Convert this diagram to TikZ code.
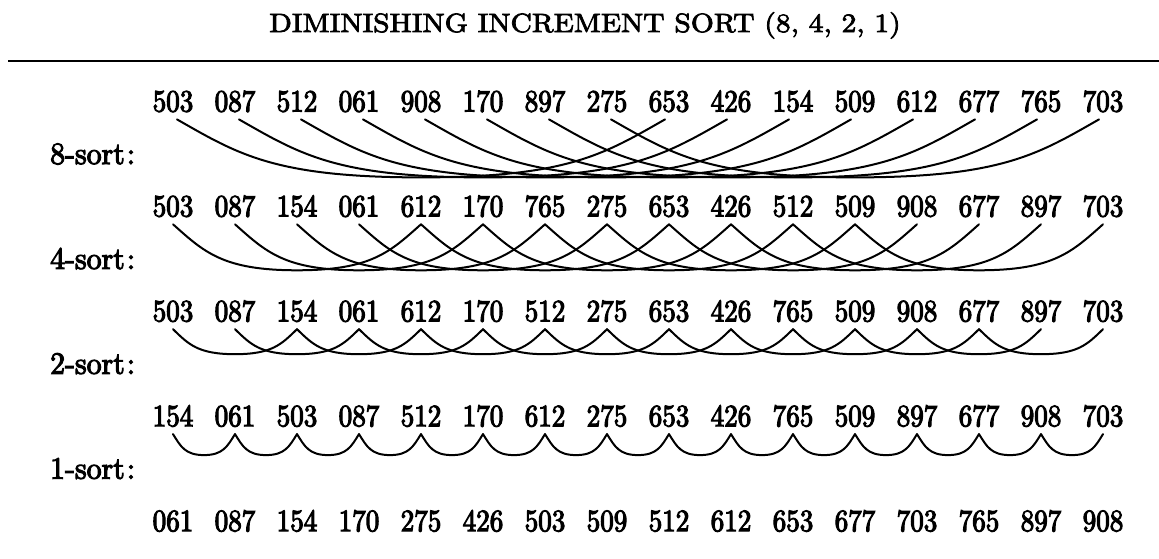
\documentclass[tikz,border=0pt]{standalone}
\usepackage{fontspec}
\usetikzlibrary{calc}
\newfontfamily\numfont{lmroman10-regular.otf}[FakeStretch=0.873,FakeBold=3.5]
\newfontfamily\labfont{lmroman10-regular.otf}[FakeStretch=0.96,FakeBold=3.5]
\newfontfamily\ttlfont{lmroman10-regular.otf}[FakeStretch=1.12,FakeBold=3]
\begin{document}
\begin{tikzpicture}[x=1pt,y=-1pt,
  num/.style={anchor=base,inner xsep=0pt,inner ysep=7pt,font=\fontsize{31}{31}\numfont},
  lab/.style={anchor=base west,inner sep=0pt,font=\fontsize{31}{31}\labfont},
  ttl/.style={anchor=base,inner sep=0pt,font=\fontsize{26.4}{30}\ttlfont},
  sortarc/.style={line width=2pt,line cap=round},
  rulestyle/.style={line width=2.2pt}]
\useasboundingbox (0,0) rectangle (1159,558);
\node[ttl] (title) at (585,32) {DIMINISHING INCREMENT SORT (8, 4, 2, 1)};
\coordinate (ruleL) at (8,61);
\coordinate (ruleR) at (1159,61);
\draw[rulestyle] (ruleL) -- (ruleR);
\foreach \row [count=\kk from 0] in {
  {503,087,512,061,908,170,897,275,653,426,154,509,612,677,765,703},
  {503,087,154,061,612,170,765,275,653,426,512,509,908,677,897,703},
  {503,087,154,061,612,170,512,275,653,426,765,509,908,677,897,703},
  {154,061,503,087,512,170,612,275,653,426,765,509,897,677,908,703},
  {061,087,154,170,275,426,503,509,512,612,653,677,703,765,897,908}}{
  \foreach \v [count=\i from 0] in \row {
    \node[num] (r\kk-\i) at ({173+62*\i},{111.5+104.9*\kk}) {\v};
  }
}
\foreach \kk/\lbl in {0/8,1/4,2/2,3/1}{
  \node[lab] (lab\kk) at (50,{164+104.9*\kk}) {\lbl-sort\kern2pt:};
}
\foreach \kk/\inc/\hw/\dd/\off in {0/8/244/58/4, 1/4/124/46/0, 2/2/62/25/0, 3/1/31/21/0}{
  \pgfmathtruncatemacro\last{15-\inc}
  \foreach \i in {0,...,\last}{
    \pgfmathtruncatemacro\j{\i+\inc}
    \draw[sortarc] ([xshift=\off pt]r\kk-\i.south)
      .. controls +({0.25*\hw},{0.6*\dd}) and +({-0.6*\hw},0) ..
      ($(r\kk-\i.south)!0.5!(r\kk-\j.south)+(0,\dd)$)
      .. controls +({0.6*\hw},0) and +({-0.25*\hw},{0.6*\dd}) ..
      ([xshift=-\off pt]r\kk-\j.south);
  }
}
\end{tikzpicture}
\end{document}
